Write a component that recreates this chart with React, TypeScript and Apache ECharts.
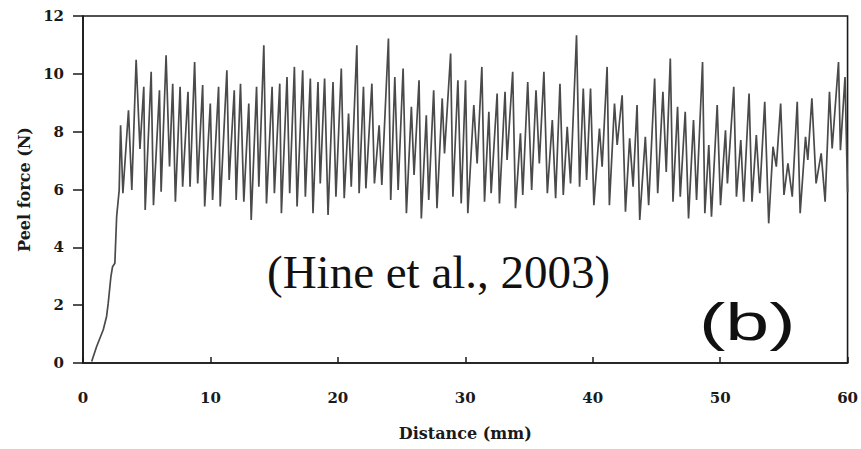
import React, { useEffect, useRef } from "react";
import * as echarts from "echarts";

const distanceMm = [
  0.68, 1.07, 1.59, 1.85, 1.98, 2.19, 2.32, 2.5, 2.64, 2.84, 2.95, 3.13, 3.57, 3.83, 4.17, 4.47, 4.77, 4.88, 5.35, 5.53, 6.0, 6.13,
  6.52, 6.79, 7.04, 7.25, 7.62, 7.82, 8.24, 8.4, 8.76, 9.0, 9.39, 9.55, 9.99, 10.17, 10.64, 10.77, 11.29, 11.47, 11.87, 12.02,
  12.36, 12.62, 13.01, 13.2, 13.62, 13.8, 14.19, 14.4, 14.84, 15.02, 15.44, 15.57, 16.01, 16.22, 16.59, 16.8, 17.24, 17.45, 17.84, 18.05,
  18.44, 18.62, 18.96, 19.23, 19.62, 19.85, 20.27, 20.5, 20.84, 21.05, 21.49, 21.67, 22.01, 22.2, 22.67, 22.87, 23.24, 23.45, 23.97, 24.15,
  24.47, 24.73, 25.12, 25.38, 25.77, 25.98, 26.37, 26.55, 26.94, 27.13, 27.52, 27.78, 28.19, 28.37, 28.85, 29.03, 29.42, 29.68, 30.02, 30.2,
  30.67, 30.93, 31.3, 31.51, 31.85, 32.03, 32.5, 32.68, 33.12, 33.28, 33.72, 33.94, 34.33, 34.51, 34.9, 35.21, 35.55, 35.81, 36.17, 36.44,
  36.83, 37.09, 37.43, 37.69, 38.0, 38.26, 38.73, 38.97, 39.26, 39.52, 39.83, 40.09, 40.53, 40.74, 41.13, 41.31, 41.71, 41.92, 42.31, 42.57,
  42.9, 43.17, 43.48, 43.69, 44.13, 44.39, 44.86, 45.1, 45.51, 45.77, 46.09, 46.3, 46.66, 46.87, 47.26, 47.52, 47.91, 48.15, 48.62, 48.8,
  49.11, 49.32, 49.77, 50.03, 50.42, 50.57, 51.07, 51.28, 51.62, 51.85, 52.27, 52.5, 52.84, 53.11, 53.5, 53.81, 54.15, 54.41, 54.75, 55.01,
  55.32, 55.66, 56.05, 56.28, 56.7, 56.88, 57.2, 57.53, 57.93, 58.24, 58.58, 58.79, 59.29, 59.44, 59.8, 60.0,
];

const peelForceN = [
  0.05, 0.57, 1.15, 1.61, 2.07, 2.99, 3.33, 3.45, 5.06, 5.98, 8.22, 5.87, 8.74, 5.98, 10.49, 7.4, 9.55, 5.29, 10.07, 5.46, 9.43, 5.92,
  10.64, 6.8, 9.66, 5.58, 9.55, 6.1, 9.38, 6.1, 10.41, 6.21, 9.61, 5.41, 8.97, 5.64, 9.55, 5.41, 10.12, 6.33, 9.43, 5.64,
  9.66, 5.58, 8.97, 4.95, 9.55, 6.1, 10.99, 5.52, 9.55, 5.87, 9.66, 5.18, 9.89, 5.87, 10.24, 5.41, 10.12, 5.75, 9.84, 5.18,
  9.72, 6.21, 9.84, 5.12, 9.72, 5.75, 10.18, 5.7, 8.63, 6.1, 10.99, 5.87, 9.55, 6.04, 9.66, 6.21, 8.22, 6.16, 11.22, 5.64,
  9.89, 5.98, 10.18, 5.18, 8.86, 6.5, 9.78, 5.0, 8.57, 5.64, 9.43, 5.35, 9.15, 7.25, 10.7, 5.75, 9.78, 5.52, 9.78, 5.18,
  8.92, 6.9, 10.24, 5.58, 8.69, 5.87, 9.32, 5.52, 9.38, 7.02, 10.07, 5.35, 7.94, 5.81, 9.72, 5.98, 9.43, 6.9, 10.07, 5.87,
  8.4, 5.7, 9.66, 5.81, 8.17, 6.21, 11.33, 6.1, 9.49, 6.33, 9.49, 5.46, 8.11, 6.79, 10.24, 5.46, 8.97, 7.54, 9.26, 5.23,
  7.77, 6.1, 8.92, 4.95, 7.82, 5.46, 9.84, 5.87, 9.38, 6.61, 10.53, 5.58, 8.86, 5.75, 8.69, 5.0, 8.4, 5.64, 10.41, 5.18,
  7.54, 5.06, 8.92, 5.46, 8.05, 6.21, 9.55, 5.75, 7.71, 5.58, 9.32, 5.58, 7.88, 5.87, 9.03, 4.83, 7.48, 6.79, 8.97, 5.81,
  6.9, 5.75, 9.03, 5.18, 7.82, 7.02, 9.15, 6.21, 7.25, 5.58, 9.38, 7.42, 10.41, 7.36, 9.89, 5.9,
];

const xTickValues = [0, 10, 20, 30, 40, 50, 60];
const yTickValues = [0, 2, 4, 6, 8, 10, 12];

const xAxisTitle = "Distance (mm)";
const yAxisTitle = "Peel force (N)";
const citation = "(Hine et al., 2003)";
const panelLabel = "(b)";

export default function App() {
  const ref = useRef<HTMLDivElement>(null);
  useEffect(() => {
    if (!ref.current) return;
    const chart = echarts.init(ref.current, undefined, { renderer: "svg" });
    const axisColor = "#1a1a1a";
    const labelFont = {
      fontFamily: "DejaVu Serif",
      fontWeight: "bold" as const,
      fontSize: 15,
      color: axisColor,
    };
    chart.setOption({
      animation: false,
      backgroundColor: "#ffffff",
      grid: {
        left: 83,
        right: 11,
        top: 16,
        bottom: 86,
        show: true,
        borderColor: axisColor,
        borderWidth: 1.6,
        backgroundColor: "transparent",
      },
      xAxis: {
        type: "value",
        min: xTickValues[0],
        max: xTickValues[xTickValues.length - 1],
        interval: 10,
        axisLine: { show: true, lineStyle: { color: axisColor, width: 1.6 } },
        axisTick: { show: true, inside: true, length: 6, lineStyle: { color: axisColor, width: 1.5 } },
        splitLine: { show: false },
        axisLabel: { ...labelFont, margin: 27 },
        name: xAxisTitle,
        nameLocation: "middle",
        nameGap: 62,
        nameTextStyle: { ...labelFont, fontSize: 16 },
      },
      yAxis: {
        type: "value",
        min: yTickValues[0],
        max: yTickValues[yTickValues.length - 1],
        interval: 2,
        axisLine: { show: true, lineStyle: { color: axisColor, width: 1.6 } },
        axisTick: { show: true, inside: false, length: 10, lineStyle: { color: axisColor, width: 1.5 } },
        splitLine: { show: false },
        axisLabel: { ...labelFont, margin: 19 },
        name: yAxisTitle,
        nameLocation: "middle",
        nameGap: 50,
        nameTextStyle: { ...labelFont, fontSize: 16 },
      },
      series: [
        {
          type: "line",
          data: distanceMm.map((d, i) => [d, peelForceN[i]]),
          showSymbol: false,
          symbol: "none",
          lineStyle: { color: "#4a4a4a", width: 1.7 },
          clip: false,
        },
      ],
      graphic: [
        {
          type: "text",
          x: 267,
          y: 248,
          style: {
            text: citation,
            font: '47px "Liberation Serif"',
            fill: "#111111",
            align: "left",
            verticalAlign: "top",
          },
        },
        {
          type: "text",
          x: 699,
          y: 296,
          scaleX: 1.52,
          style: {
            text: panelLabel,
            font: '52px "Liberation Sans"',
            fill: "#111111",
            align: "left",
            verticalAlign: "top",
          },
        },
      ],
    });
    return () => chart.dispose();
  }, []);
  return <div ref={ref} style={{ width: 861, height: 449, position: "absolute", left: 0, top: 0 }} />;
}
